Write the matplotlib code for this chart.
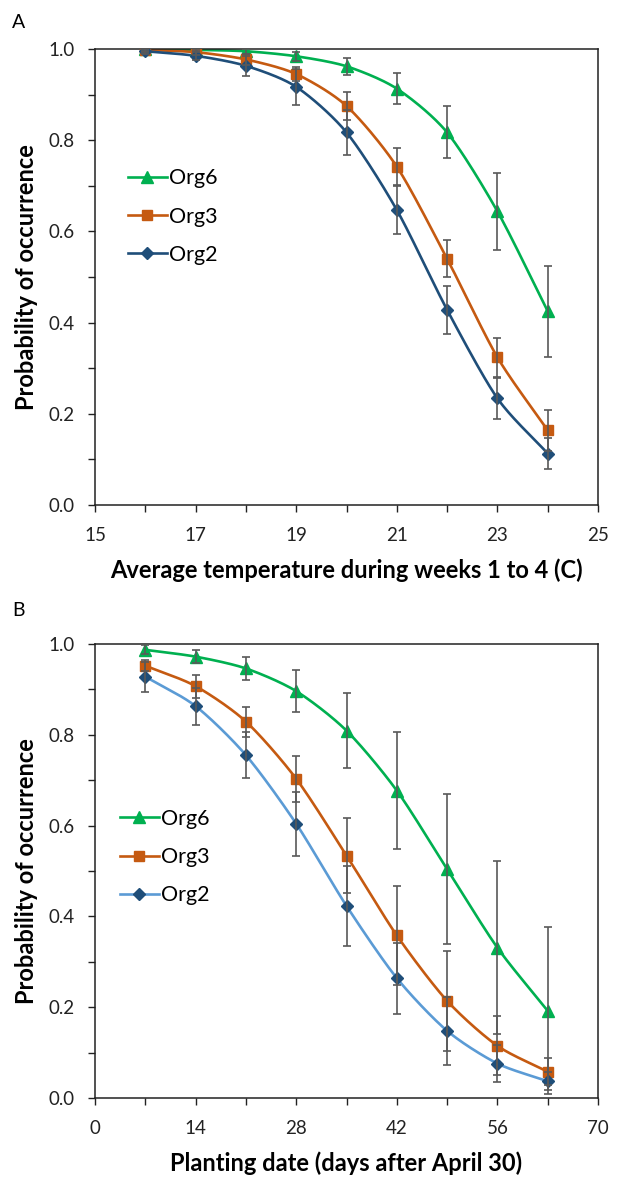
import numpy as np
import matplotlib
matplotlib.use('Agg')
import matplotlib.pyplot as plt
from matplotlib.ticker import MultipleLocator, FormatStrFormatter

plt.rcParams['font.family'] = ['Lato', 'DejaVu Sans']

# panel A: average temperature (C)
temp = [16, 17, 18, 19, 20, 21, 22, 23, 24]
a_org6 = [0.999, 0.998, 0.995, 0.984, 0.962, 0.913, 0.817, 0.644, 0.425]
a_org6_err = [0.003, 0.004, 0.006, 0.010, 0.018, 0.034, 0.057, 0.085, 0.100]
a_org3 = [0.998, 0.993, 0.977, 0.945, 0.875, 0.742, 0.540, 0.324, 0.164]
a_org3_err = [0.004, 0.007, 0.012, 0.016, 0.031, 0.040, 0.041, 0.043, 0.045]
a_org2 = [0.995, 0.985, 0.963, 0.917, 0.817, 0.647, 0.428, 0.234, 0.113]
a_org2_err = [0.006, 0.010, 0.022, 0.040, 0.050, 0.053, 0.053, 0.045, 0.034]

# panel B: planting date (days after April 30)
days = [7, 14, 21, 28, 35, 42, 49, 56, 63]
b_org6 = [0.987, 0.972, 0.946, 0.896, 0.809, 0.677, 0.504, 0.331, 0.192]
b_org6_err = [0.010, 0.015, 0.025, 0.046, 0.082, 0.128, 0.165, 0.190, 0.184]
b_org3 = [0.952, 0.907, 0.829, 0.703, 0.534, 0.358, 0.214, 0.115, 0.058]
b_org3_err = [0.012, 0.025, 0.033, 0.051, 0.082, 0.108, 0.110, 0.065, 0.030]
b_org2 = [0.928, 0.863, 0.755, 0.604, 0.423, 0.264, 0.148, 0.076, 0.037]
b_org2_err = [0.033, 0.041, 0.050, 0.070, 0.088, 0.078, 0.075, 0.040, 0.020]

green = '#00B050'
orange = '#C55A11'
navy = '#1F4E79'
light_blue = '#5B9BD5'
err_col = '#595959'


def smooth(x, y, n=30):
    # catmull-rom curve through the points, like excel's smoothed line
    x = np.asarray(x, float)
    y = np.asarray(y, float)
    px = np.concatenate([[2 * x[0] - x[1]], x, [2 * x[-1] - x[-2]]])
    py = np.concatenate([[2 * y[0] - y[1]], y, [2 * y[-1] - y[-2]]])
    xs, ys = [], []
    t = np.linspace(0, 1, n)
    for i in range(1, len(px) - 2):
        for p, out in ((px, xs), (py, ys)):
            p0, p1, p2, p3 = p[i - 1], p[i], p[i + 1], p[i + 2]
            m1 = (p2 - p0) / 2 * 0.8
            m2 = (p3 - p1) / 2 * 0.8
            h00 = 2 * t**3 - 3 * t**2 + 1
            h10 = t**3 - 2 * t**2 + t
            h01 = -2 * t**3 + 3 * t**2
            h11 = t**3 - t**2
            out.extend(h00 * p1 + h10 * m1 + h01 * p2 + h11 * m2)
    return xs, ys


def draw_series(ax, x, y, err, line_col, mk_col, marker, ms, label):
    sx, sy = smooth(x, y)
    ax.plot(sx, sy, color=line_col, lw=1.9, zorder=2)
    ax.plot(x, y, ls='none', marker=marker, ms=ms, color=mk_col,
            markeredgecolor=mk_col, zorder=3)
    ax.errorbar(x, y, yerr=err, fmt='none', ecolor=err_col, elinewidth=1.2,
                capsize=3, capthick=1.2, zorder=4)
    ax.plot([], [], color=line_col, lw=1.9, marker=marker, ms=ms,
            markerfacecolor=mk_col, markeredgecolor=mk_col, label=label)


def style_axes(ax, xticks, minor, xlabel, leg_xy):
    ax.set_xlim(xticks[0], xticks[-1])
    ax.set_ylim(0, 1.0)
    ax.set_xticks(xticks)
    ax.xaxis.set_minor_locator(MultipleLocator(minor))
    ax.yaxis.set_major_locator(MultipleLocator(0.2))
    ax.yaxis.set_minor_locator(MultipleLocator(0.1))
    ax.yaxis.set_major_formatter(FormatStrFormatter('%.1f'))
    ax.tick_params(which='both', direction='out', length=5, width=1,
                   labelsize=13.5, colors='#222222')
    ax.tick_params(axis='x', pad=11)
    ax.tick_params(axis='y', pad=10)
    for s in ax.spines.values():
        s.set_color('#222222')
        s.set_linewidth(1.1)
    ax.set_ylabel('Probability of occurrence', fontsize=17, fontweight='bold',
                  labelpad=7)
    ax.set_xlabel(xlabel, fontsize=17, fontweight='bold', labelpad=10)
    ax.legend(loc='upper left', bbox_to_anchor=leg_xy, frameon=False,
              fontsize=15.5, handlelength=1.8, handletextpad=0.1,
              labelspacing=0.85, borderaxespad=0)


fig = plt.figure(figsize=(6.31, 11.77), dpi=100)
axA = fig.add_axes([0.1506, 0.5709, 0.7971, 0.3875])
axB = fig.add_axes([0.1506, 0.0671, 0.7971, 0.3858])

draw_series(axA, temp, a_org6, a_org6_err, green, green, '^', 8, 'Org6')
draw_series(axA, temp, a_org3, a_org3_err, orange, orange, 's', 6.5, 'Org3')
draw_series(axA, temp, a_org2, a_org2_err, navy, navy, 'D', 6.5, 'Org2')
style_axes(axA, [15, 17, 19, 21, 23, 25], 1,
           'Average temperature during weeks 1 to 4 (C)', (0.0485, 0.757))

draw_series(axB, days, b_org6, b_org6_err, green, green, '^', 8, 'Org6')
draw_series(axB, days, b_org3, b_org3_err, orange, orange, 's', 6.5, 'Org3')
draw_series(axB, days, b_org2, b_org2_err, light_blue, navy, 'D', 6.5, 'Org2')
style_axes(axB, [0, 14, 28, 42, 56, 70], 7,
           'Planting date (days after April 30)', (0.0326, 0.656))

fig.text(12 / 631, 1 - 23 / 1177, 'A', fontsize=14, va='center', ha='left')
fig.text(12 / 631, 1 - 610 / 1177, 'B', fontsize=14, va='center', ha='left')

fig.savefig('out.png', dpi=100)
